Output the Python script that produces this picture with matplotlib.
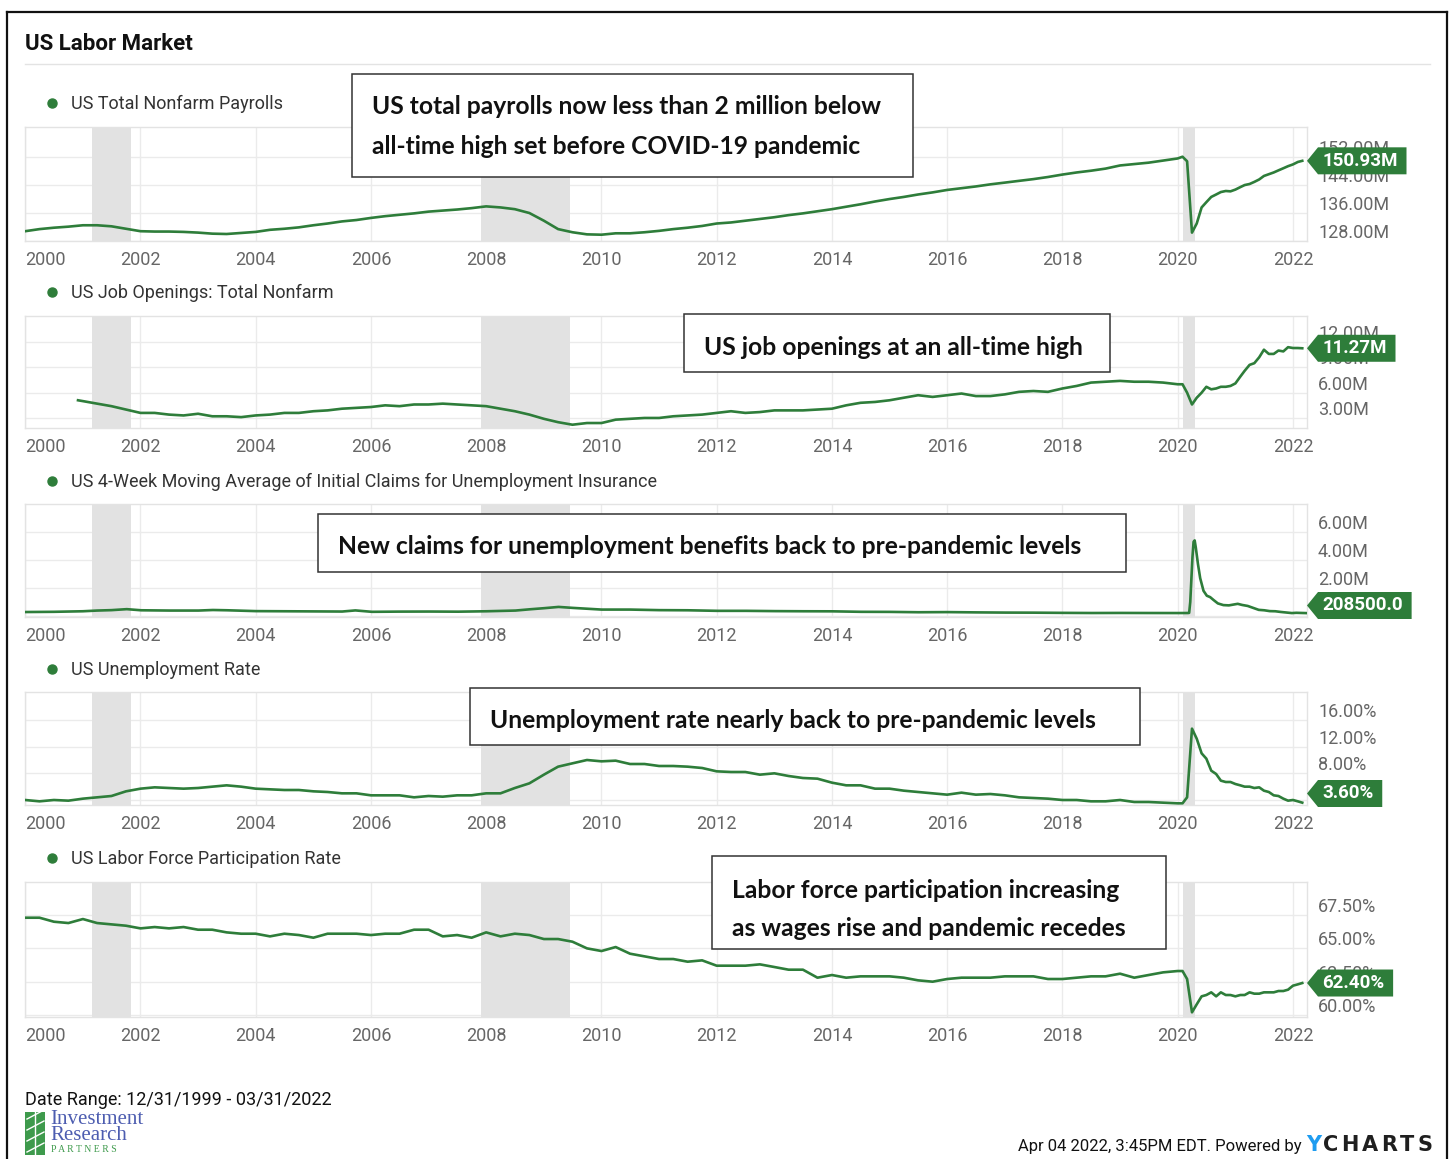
import matplotlib
matplotlib.use("Agg")
import matplotlib.pyplot as plt
import pandas as pd
from matplotlib.lines import Line2D
from matplotlib.patches import Rectangle, Polygon
from matplotlib.transforms import IdentityTransform

W, H, DPI = 1452, 1159, 100
GREEN = '#2e7d3a'
NARROW = ['Liberation Sans Narrow', 'Roboto', 'DejaVu Sans']
BOXFONT = ['Lato', 'Open Sans', 'DejaVu Sans']

# ---- data ----
# quarterly points to 2019, monthly from 2020 on
common_dates = [f"{y}-{m:02d}" for y in range(2000, 2020) for m in (1, 4, 7, 10)] + \
               [f"{y}-{m:02d}" for y in (2020, 2021) for m in range(1, 13)] + \
               ["2022-01", "2022-02", "2022-03"]

payrolls = [130.8, 131.4, 131.8, 132.1, 132.5, 132.5, 132.2, 131.5,
            130.8, 130.7, 130.7, 130.6, 130.4, 130.1, 130.0, 130.3,
            130.6, 131.2, 131.5, 131.9, 132.5, 133.0, 133.6, 134.0,
            134.6, 135.1, 135.5, 135.9, 136.4, 136.7, 137.0, 137.4,
            137.9, 137.6, 137.1, 136.0, 133.8, 131.4, 130.5, 129.9,
            129.8, 130.2, 130.2, 130.5, 130.9, 131.4, 131.8, 132.3,
            133.0, 133.3, 133.8, 134.3, 134.8, 135.4, 135.9, 136.5,
            137.1, 137.8, 138.5, 139.3, 140.0, 140.6, 141.3, 141.9,
            142.6, 143.1, 143.6, 144.2, 144.7, 145.2, 145.7, 146.3,
            147.0, 147.6, 148.1, 148.7, 149.6, 150.0, 150.4, 151.0,
            151.6, 152.1, 150.8, 130.4, 133.0, 137.6, 139.1, 140.6, 141.3, 142.0, 142.3, 142.2,
            142.7, 143.4, 144.0, 144.3, 144.9, 145.6, 146.6, 147.1, 147.6, 148.2, 148.8, 149.4,
            149.9, 150.6, 150.93]

unemployment = [4.0, 3.8, 4.0, 3.9, 4.2, 4.4, 4.6, 5.3,
                5.7, 5.9, 5.8, 5.7, 5.8, 6.0, 6.2, 6.0,
                5.7, 5.6, 5.5, 5.5, 5.3, 5.2, 5.0, 5.0,
                4.7, 4.7, 4.7, 4.4, 4.6, 4.5, 4.7, 4.7,
                5.0, 5.0, 5.8, 6.5, 7.8, 9.0, 9.5, 10.0,
                9.8, 9.9, 9.4, 9.4, 9.1, 9.1, 9.0, 8.8,
                8.3, 8.2, 8.2, 7.8, 8.0, 7.6, 7.3, 7.2,
                6.6, 6.2, 6.2, 5.7, 5.7, 5.4, 5.2, 5.0,
                4.8, 5.1, 4.8, 4.9, 4.7, 4.4, 4.3, 4.2,
                4.0, 4.0, 3.8, 3.8, 4.0, 3.7, 3.7, 3.6,
                3.5, 3.5, 4.4, 14.7, 13.2, 11.0, 10.2, 8.4, 7.9, 6.9, 6.7, 6.7,
                6.4, 6.2, 6.0, 6.0, 5.8, 5.9, 5.4, 5.2, 4.7, 4.6, 4.2, 3.9,
                4.0, 3.8, 3.6]

participation = [67.3, 67.3, 67.0, 66.9, 67.2, 66.9, 66.8, 66.7,
                 66.5, 66.6, 66.5, 66.6, 66.4, 66.4, 66.2, 66.1,
                 66.1, 65.9, 66.1, 66.0, 65.8, 66.1, 66.1, 66.1,
                 66.0, 66.1, 66.1, 66.4, 66.4, 65.9, 66.0, 65.8,
                 66.2, 65.9, 66.1, 66.0, 65.7, 65.7, 65.5, 65.0,
                 64.8, 65.1, 64.6, 64.4, 64.2, 64.2, 64.0, 64.1,
                 63.7, 63.7, 63.7, 63.8, 63.6, 63.4, 63.4, 62.8,
                 63.0, 62.8, 62.9, 62.9, 62.9, 62.8, 62.6, 62.5,
                 62.7, 62.8, 62.8, 62.8, 62.9, 62.9, 62.9, 62.7,
                 62.7, 62.8, 62.9, 62.9, 63.1, 62.8, 63.0, 63.2,
                 63.3, 63.3, 62.7, 60.2, 60.8, 61.4, 61.5, 61.7, 61.4, 61.7, 61.5, 61.5,
                 61.4, 61.5, 61.5, 61.7, 61.6, 61.6, 61.7, 61.7, 61.7, 61.8, 61.8, 61.9,
                 62.2, 62.3, 62.4]

openings_dates = ["2000-12"] + common_dates[4:]
openings = [5.1,
            5.0, 4.7, 4.4, 4.0, 3.6, 3.6, 3.4, 3.3, 3.5, 3.2, 3.2, 3.1,
            3.3, 3.4, 3.6, 3.6, 3.8, 3.9, 4.1, 4.2, 4.3, 4.5, 4.4, 4.6,
            4.6, 4.7, 4.6, 4.5, 4.4, 4.1, 3.8, 3.4, 2.9, 2.5, 2.2, 2.4,
            2.4, 2.8, 2.9, 3.0, 3.0, 3.2, 3.3, 3.4, 3.6, 3.8, 3.6, 3.7,
            3.9, 3.9, 3.9, 4.0, 4.1, 4.5, 4.8, 4.9, 5.1, 5.4, 5.7, 5.5,
            5.7, 5.9, 5.6, 5.6, 5.8, 6.1, 6.2, 6.1, 6.5, 6.8, 7.2, 7.3,
            7.4, 7.3, 7.3, 7.2,
            7.0, 7.0, 6.0, 4.6, 5.4, 6.0, 6.7, 6.4, 6.5, 6.7, 6.7, 6.8,
            7.1, 7.9, 8.6, 9.3, 9.5, 10.2, 11.1, 10.6, 10.6, 11.0, 10.9, 11.4,
            11.3, 11.3, 11.27]

claims_dates = ["2000-01-01", "2000-07-01", "2001-01-01", "2001-04-01", "2001-07-01", "2001-10-06",
                "2002-01-05", "2002-07-06", "2003-01-04", "2003-04-05", "2003-07-05", "2004-01-03",
                "2004-07-03", "2005-01-01", "2005-07-02", "2005-09-24", "2006-01-07", "2006-07-01",
                "2007-01-06", "2007-07-07", "2008-01-05", "2008-07-05", "2008-10-04", "2009-01-03",
                "2009-04-04", "2009-07-04", "2010-01-02", "2010-07-03", "2011-01-01", "2011-07-02",
                "2012-01-07", "2012-07-07", "2013-01-05", "2013-07-06", "2014-01-04", "2014-07-05",
                "2015-01-03", "2015-07-04", "2016-01-02", "2016-07-02", "2017-01-07", "2017-07-01",
                "2018-01-06", "2018-07-07", "2019-01-05", "2019-07-06", "2020-01-04", "2020-03-07",
                "2020-03-14", "2020-03-21", "2020-03-28", "2020-04-04", "2020-04-11", "2020-04-18",
                "2020-04-25", "2020-05-09", "2020-05-23", "2020-06-13", "2020-07-04", "2020-07-25",
                "2020-08-15", "2020-09-12", "2020-10-17", "2020-11-21", "2020-12-26", "2021-01-16",
                "2021-02-13", "2021-03-20", "2021-04-24", "2021-05-29", "2021-07-03", "2021-08-07",
                "2021-09-11", "2021-10-16", "2021-11-20", "2021-12-25", "2022-01-22", "2022-02-19",
                "2022-03-26"]
claims_k = [285, 300, 340, 390, 420, 490, 410, 390, 390, 430, 410, 350,
            340, 330, 320, 400, 300, 315, 320, 310, 340, 390, 480, 560,
            650, 580, 460, 460, 420, 410, 370, 370, 350, 340, 335, 300,
            295, 270, 280, 260, 245, 240, 225, 215, 220, 215, 212, 215,
            225, 1000, 2600, 4200, 5300, 5400, 4900, 3700, 2700, 1800,
            1450, 1350, 1150, 900, 780, 760, 830, 870, 790, 720, 580, 440,
            410, 350, 340, 290, 250, 210, 230, 220, 208.5]
claims = [v / 1000 for v in claims_k]

recessions = [("2001-03-01", "2001-11-01"), ("2007-12-01", "2009-06-15"), ("2020-02-01", "2020-04-20")]

series_names = ["US Total Nonfarm Payrolls", "US Job Openings: Total Nonfarm",
                "US 4-Week Moving Average of Initial Claims for Unemployment Insurance",
                "US Unemployment Rate", "US Labor Force Participation Rate"]
last_labels = ["150.93M", "11.27M", "208500.0", "3.60%", "62.40%"]
ytick_vals = [[128, 136, 144, 152], [3, 6, 9, 12], [0, 2, 4, 6], [4, 8, 12, 16], [60, 62.5, 65, 67.5]]
# labels hidden under the value badge in the original are left blank
ytick_text = [["128.00M", "136.00M", "144.00M", "152.00M"], ["3.00M", "6.00M", "9.00M", "12.00M"],
              ["", "2.00M", "4.00M", "6.00M"], ["", "8.00%", "12.00%", "16.00%"],
              ["60.00%", "62.50%", "65.00%", "67.50%"]]
ylims = [(128, 160.6), (1.81, 15.1), (-0.07, 8.0), (3.25, 20.2), (59.85, 69.98)]
year_ticks = list(range(2000, 2023, 2))

notes = [["US total payrolls now less than 2 million below", "all-time high set before COVID-19 pandemic"],
         ["US job openings at an all-time high"],
         ["New claims for unemployment benefits back to pre-pandemic levels"],
         ["Unemployment rate nearly back to pre-pandemic levels"],
         ["Labor force participation increasing", "as wages rise and pandemic recedes"]]

# ---- layout (pixels in the output image) ----
panel_px = [(127, 241), (316, 428), (504, 617), (692, 805), (882, 1017)]
legend_y = [104, 293, 482, 670, 859]
note_boxes = [(352, 74, 913, 177), (684, 314, 1110, 372), (318, 514, 1126, 572),
              (470, 688, 1140, 745), (712, 856, 1166, 949)]
note_lines_y = [[107, 146], [347], [547], [721], [890, 929]]
AX_L, AX_R = 25, 1307

fig = plt.figure(figsize=(W / DPI, H / DPI), dpi=DPI)
fig.patch.set_facecolor('white')


def fx(x):
    return x / W


def fy(y):
    return 1 - y / H


# outer frame
for xs, ys in [([7, 7], [12, H]), ([7, 1447], [12, 12]), ([1447, 1447], [12, H])]:
    fig.add_artist(Line2D([fx(v) for v in xs], [fy(v) for v in ys], color='#111111', lw=1.6))

fig.text(fx(25), fy(44), "US Labor Market", family=NARROW, fontsize=16, fontweight='bold',
         color='#111111', va='center', ha='left')
fig.add_artist(Line2D([fx(25), fx(1430)], [fy(64), fy(64)], color='#e3e3e3', lw=1))

all_x = [pd.to_datetime(common_dates), pd.to_datetime(openings_dates), pd.to_datetime(claims_dates),
         pd.to_datetime(common_dates), pd.to_datetime(common_dates)]
all_y = [payrolls, openings, claims, unemployment, participation]

renderer = fig.canvas.get_renderer()

for i in range(5):
    top, bot = panel_px[i]
    ax = fig.add_axes([fx(AX_L), fy(bot), (AX_R - AX_L) / W, (bot - top) / H])
    for s, e in recessions:
        ax.axvspan(pd.Timestamp(s), pd.Timestamp(e), color='#e2e2e2', lw=0, zorder=1)
    ax.plot(all_x[i], all_y[i], color=GREEN, lw=1.9, solid_joinstyle='round', zorder=3)
    ax.set_xlim(pd.Timestamp("1999-12-31"), pd.Timestamp("2022-03-31"))
    ax.set_ylim(*ylims[i])
    ax.set_yticks(ytick_vals[i])
    ax.set_yticklabels([])
    ax.set_xticks([pd.Timestamp(f"{y}-01-01") for y in year_ticks])
    ax.set_xticklabels([str(y) for y in year_ticks], family=NARROW, fontsize=13, color='#666666')
    ax.get_xticklabels()[0].set_ha('left')
    ax.tick_params(length=0, axis='both')
    ax.tick_params(axis='x', pad=7.5)
    ax.grid(True, color='#ebebeb', lw=1, zorder=0)
    ax.set_axisbelow(True)
    for sp in ax.spines.values():
        sp.set_color('#e3e3e3')
        sp.set_linewidth(1)

    for v, t in zip(ytick_vals[i], ytick_text[i]):
        if not t:
            continue
        ax.annotate(t, xy=(1, v), xycoords=('axes fraction', 'data'), xytext=(11, 8),
                    textcoords='offset pixels', ha='left', va='center', family=NARROW,
                    fontsize=13, color='#666666', annotation_clip=False, zorder=4)

    # legend row
    fig.add_artist(Line2D([fx(52)], [fy(legend_y[i] - 1)], marker='o', ms=6.5, color=GREEN, lw=0))
    fig.text(fx(71), fy(legend_y[i]), series_names[i], family=NARROW, fontsize=13,
             color='#333333', va='center', ha='left')

    # last value badge
    yd = ax.transData.transform((ax.get_xlim()[0], all_y[i][-1]))[1]
    ybot = fy(bot) * H
    yd = max(yd, ybot - 2 + 13.5)
    t = fig.text((AX_R + 15) / W, yd / H, last_labels[i], family=NARROW, fontsize=13.5,
                 fontweight='bold', color='white', ha='left', va='center', zorder=11)
    bb = t.get_window_extent(renderer)
    xr = bb.x1 + 9
    poly = Polygon([(AX_R, yd), (AX_R + 11, yd + 13.5), (xr, yd + 13.5), (xr, yd - 13.5),
                    (AX_R + 11, yd - 13.5)], closed=True, facecolor=GREEN, edgecolor='none',
                   transform=IdentityTransform(), zorder=10)
    fig.add_artist(poly)

    # annotation box
    x0, y0, x1, y1 = note_boxes[i]
    fig.add_artist(Rectangle((fx(x0), fy(y1)), (x1 - x0) / W, (y1 - y0) / H, facecolor='white',
                             edgecolor='#333333', lw=1.1, zorder=12))
    for line, ly in zip(notes[i], note_lines_y[i]):
        fig.text(fx(x0 + 20), fy(ly), line, family=BOXFONT, fontsize=17.7, fontweight='bold',
                 color='#111111', va='center', ha='left', zorder=13)

# footer
fig.text(fx(25), fy(1100), "Date Range: 12/31/1999 - 03/31/2022", family=NARROW, fontsize=13,
         color='#111111', va='center', ha='left')

# Investment Research Partners logo
fig.add_artist(Rectangle((fx(25), fy(1155)), 20 / W, 43 / H, facecolor='#3e9a4c', edgecolor='none'))
for k in range(4):
    fig.add_artist(Line2D([fx(27), fx(44)], [fy(1152 - k * 11), fy(1143 - k * 11)], color='white', lw=1))
fig.add_artist(Line2D([fx(35), fx(35)], [fy(1155), fy(1112)], color='white', lw=1))
fig.text(fx(50), fy(1119), "Investment", family=['Liberation Serif', 'DejaVu Serif'], fontsize=15,
         color='#4d5db0', va='center', ha='left')
fig.text(fx(50), fy(1135), "Research", family=['Liberation Serif', 'DejaVu Serif'], fontsize=15,
         color='#4d5db0', va='center', ha='left')
fig.text(fx(51), fy(1150), "P A R T N E R S", family=['Liberation Serif', 'DejaVu Serif'], fontsize=7,
         color='#3e9a4c', va='center', ha='left')

fig.text(fx(1302), fy(1146), "Apr 04 2022, 3:45PM EDT. Powered by", family=NARROW, fontsize=12,
         color='#111111', va='center', ha='right')
ty = fig.text(fx(1306), fy(1145), "Y", family='DejaVu Sans', fontsize=15, fontweight='bold',
              color='#1e9cf0', va='center', ha='left')
xpos = ty.get_window_extent(renderer).x1 + 2
for ch in "CHARTS":
    tc = fig.text(xpos / W, fy(1145), ch, family='DejaVu Sans', fontsize=15, fontweight='bold',
                  color='#1f1f1f', va='center', ha='left')
    xpos = tc.get_window_extent(renderer).x1 + 3

fig.savefig("out.png", dpi=DPI)
